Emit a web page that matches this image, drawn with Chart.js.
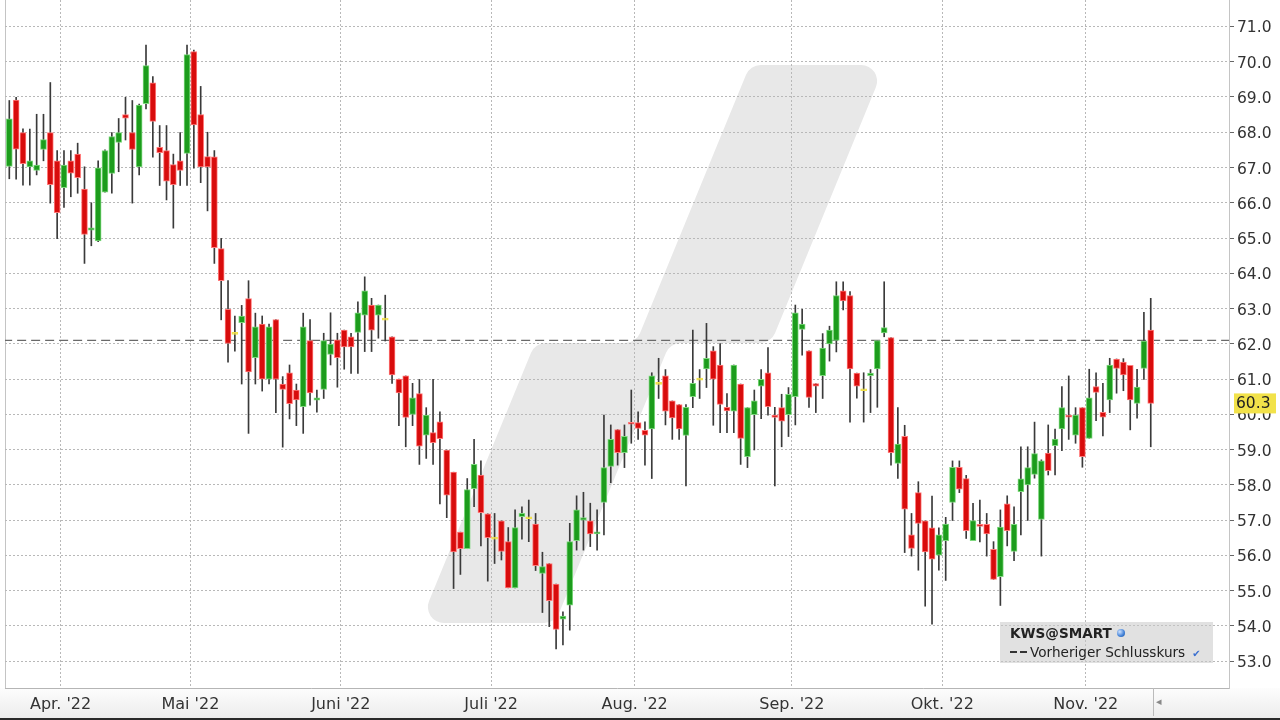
<!DOCTYPE html>
<html lang="de">
<head>
<meta charset="utf-8">
<title>KWS@SMART</title>
<script src="https://cdn.jsdelivr.net/npm/chart.js@4.4.1/dist/chart.umd.min.js"></script>
<style>
  html, body { margin: 0; padding: 0; background: #fff; }
  #wrap { position: relative; width: 1280px; height: 720px; font-family: "DejaVu Sans", Verdana, sans-serif; color: #222; }
  #chart { display: block; }
  .legend { position: absolute; left: 1000px; top: 622px; width: 213px; height: 41px; background: rgba(200,200,200,.55); font-size: 13.6px; }
  .legend .l1 { position: absolute; left: 10px; top: 3px; font-weight: bold; }
  .legend .l2 { position: absolute; left: 10px; top: 22px; white-space: nowrap; }
  .globe { display: inline-block; width: 8px; height: 8px; border-radius: 50%; background: radial-gradient(circle at 35% 35%, #cfe3ff, #3f7fd6 60%, #24559c); margin-left: 5px; vertical-align: 1px; }
  .dash { display: inline-block; width: 7px; height: 2px; background: #333; margin-right: 3px; vertical-align: 4px; }
  .check { color: #3a6fd0; font-size: 10px; margin-left: 7px; }
  .sep { position: absolute; left: 1153px; top: 688px; width: 1px; height: 28px; background: #bbb; }
  .arrow { position: absolute; left: 1156px; top: 695px; font-size: 11px; color: #888; }
</style>
</head>
<body>
<div id="wrap">
  <canvas id="chart" width="1280" height="720"></canvas>
  <div class="legend">
    <div class="l1">KWS@SMART<span class="globe"></span></div>
    <div class="l2"><span class="dash"></span><span class="dash"></span>Vorheriger Schlusskurs<span class="check">✔</span></div>
  </div>
  <div class="sep"></div>
  <div class="arrow">◂</div>
</div>
<script>
// daily candles 22.03.2022 – 14.11.2022 (one entry per trading day)
const opens = [
  67.03, 68.91, 67.99, 67.02, 66.92, 67.51, 67.99, 67.19, 66.43, 67.19, 67.38, 66.39, 65.22, 64.92, 66.30, 66.83, 67.71, 68.50, 67.99, 67.02,
  68.81, 69.40, 67.57, 67.48, 67.08, 67.19, 67.40, 70.29, 68.50, 67.31, 67.30, 64.70, 62.98, 62.27, 62.60, 63.28, 61.61, 62.56, 61.00, 62.69,
  60.86, 61.18, 60.69, 60.22, 62.09, 60.40, 60.71, 61.70, 62.11, 62.39, 62.20, 62.32, 62.81, 63.10, 62.81, 62.67, 62.20, 61.00, 61.09, 60.00,
  60.59, 59.41, 59.48, 59.79, 58.99, 58.36, 56.66, 56.19, 57.89, 58.28, 57.18, 56.46, 56.98, 56.39, 55.08, 57.10, 57.04, 56.89, 55.49, 55.77,
  55.19, 54.19, 54.59, 56.42, 57.00, 56.98, 56.61, 57.50, 58.52, 59.57, 58.91, 59.77, 59.77, 59.55, 59.59, 60.85, 61.09, 60.38, 60.28, 59.40,
  60.50, 60.97, 61.29, 61.80, 61.40, 60.20, 60.09, 60.86, 58.80, 59.99, 60.80, 61.18, 59.98, 60.19, 59.99, 60.50, 62.41, 61.80, 60.87, 61.10,
  62.00, 62.10, 63.50, 63.37, 61.17, 60.67, 61.10, 61.29, 62.31, 62.18, 58.61, 59.38, 56.58, 57.78, 56.98, 56.78, 56.01, 56.42, 57.50, 58.50,
  58.18, 56.42, 56.88, 56.88, 56.17, 55.40, 57.46, 56.11, 57.81, 58.00, 58.30, 57.02, 58.90, 59.11, 59.59, 59.98, 59.41, 60.19, 59.32, 60.79,
  60.06, 60.41, 61.57, 61.48, 61.39, 60.31, 61.30, 62.39
];
const highs = [
  68.90, 68.99, 68.10, 68.09, 68.51, 68.51, 69.41, 67.48, 67.48, 67.48, 67.69, 67.02, 66.00, 67.19, 67.50, 67.99, 68.39, 68.99, 68.90, 68.80,
  70.47, 69.58, 68.19, 68.19, 67.38, 67.99, 70.47, 70.33, 69.30, 68.00, 67.48, 64.99, 63.79, 62.79, 63.09, 63.79, 62.87, 62.79, 62.56, 62.69,
  61.07, 61.40, 60.86, 62.87, 62.69, 60.69, 62.30, 62.88, 62.30, 62.39, 62.30, 63.19, 63.90, 63.29, 63.10, 63.38, 62.20, 61.00, 61.09, 60.88,
  60.99, 60.19, 60.99, 60.07, 58.99, 58.36, 56.66, 58.18, 59.29, 58.68, 57.18, 57.19, 56.98, 56.79, 57.29, 57.38, 57.57, 57.19, 56.09, 55.77,
  55.19, 54.40, 56.91, 57.69, 57.79, 57.48, 57.29, 59.98, 59.70, 59.57, 59.70, 60.69, 60.07, 59.79, 61.18, 61.59, 61.27, 60.38, 60.28, 60.28,
  62.39, 61.27, 62.58, 61.92, 62.01, 60.59, 61.40, 60.86, 60.19, 60.69, 61.27, 61.89, 60.20, 60.57, 60.76, 63.10, 62.98, 61.80, 60.87, 62.29,
  62.50, 63.76, 63.76, 63.48, 61.17, 61.18, 61.27, 62.09, 63.76, 62.18, 60.19, 59.69, 57.19, 58.09, 56.98, 57.68, 56.78, 57.08, 58.68, 58.68,
  58.27, 57.48, 57.57, 57.19, 56.39, 57.29, 57.69, 57.38, 59.08, 59.08, 59.78, 58.71, 59.70, 59.58, 60.79, 61.09, 60.19, 60.19, 61.28, 61.18,
  60.88, 61.59, 61.57, 61.58, 61.39, 61.28, 62.89, 63.29
];
const lows = [
  66.68, 66.67, 66.50, 66.50, 66.79, 67.19, 65.99, 64.98, 65.87, 66.17, 66.27, 64.28, 64.78, 64.90, 66.30, 66.27, 66.88, 67.78, 65.99, 66.79,
  68.66, 67.29, 66.49, 66.08, 65.28, 66.49, 66.49, 66.98, 66.57, 65.77, 64.28, 62.68, 61.48, 61.79, 60.86, 59.46, 60.86, 60.66, 60.86, 60.05,
  59.07, 59.87, 59.68, 59.46, 60.26, 60.06, 60.45, 61.40, 60.77, 61.28, 61.16, 61.16, 61.78, 61.78, 62.16, 62.08, 60.88, 59.68, 59.08, 59.68,
  58.58, 58.75, 58.58, 57.46, 57.07, 55.06, 55.46, 56.19, 57.38, 56.27, 55.27, 55.77, 55.87, 55.08, 55.08, 56.46, 56.39, 55.57, 54.38, 53.98,
  53.35, 53.46, 53.88, 56.15, 56.15, 56.25, 56.15, 56.58, 58.06, 58.56, 58.49, 59.18, 59.29, 58.56, 58.18, 60.45, 59.70, 59.29, 59.29, 57.97,
  60.19, 60.45, 60.76, 59.69, 59.48, 59.48, 59.48, 58.58, 58.49, 58.99, 59.88, 59.98, 57.97, 59.08, 59.37, 59.70, 61.68, 60.20, 60.05, 60.45,
  61.51, 61.77, 62.96, 59.78, 60.46, 59.78, 60.05, 60.20, 62.20, 58.56, 58.18, 56.08, 55.98, 55.58, 54.56, 54.05, 55.58, 55.29, 56.99, 57.78,
  56.48, 56.42, 56.38, 55.98, 55.32, 54.58, 56.27, 55.85, 56.58, 56.99, 58.19, 55.98, 58.28, 58.28, 58.97, 59.29, 59.18, 58.50, 59.32, 59.82,
  59.39, 60.05, 60.60, 60.67, 59.56, 59.89, 60.99, 59.08
];
const closes = [
  68.38, 67.52, 67.11, 67.19, 67.07, 67.79, 66.51, 65.72, 67.07, 66.84, 66.71, 65.10, 65.29, 66.99, 67.48, 67.88, 67.99, 68.40, 67.51, 68.77,
  69.89, 68.31, 67.42, 66.61, 66.51, 66.92, 70.20, 68.21, 67.02, 67.02, 64.73, 63.79, 62.01, 62.27, 62.79, 61.20, 62.48, 61.00, 62.48, 61.00,
  60.71, 60.30, 60.41, 62.48, 60.61, 60.47, 62.09, 61.99, 61.61, 61.91, 61.91, 62.88, 63.50, 62.39, 63.10, 62.67, 61.12, 60.61, 59.91, 60.47,
  59.10, 59.98, 59.20, 59.31, 57.71, 56.10, 56.19, 57.87, 58.58, 57.21, 56.50, 56.46, 56.11, 55.08, 56.79, 57.19, 57.04, 55.71, 55.68, 54.72,
  53.90, 54.28, 56.39, 57.29, 57.07, 56.61, 56.67, 58.49, 59.29, 58.91, 59.38, 59.72, 59.60, 59.41, 61.09, 60.85, 60.09, 59.90, 59.59, 60.20,
  60.88, 60.97, 61.59, 61.00, 60.28, 60.10, 61.40, 59.32, 60.19, 60.38, 60.99, 60.22, 59.91, 59.81, 60.57, 62.88, 62.56, 60.48, 60.80, 61.88,
  62.39, 63.37, 63.22, 61.29, 60.80, 60.67, 61.17, 62.09, 62.46, 58.91, 59.16, 57.31, 56.20, 56.91, 56.10, 55.89, 56.58, 56.89, 58.50, 57.88,
  56.70, 56.99, 56.82, 56.61, 55.32, 56.80, 56.70, 56.88, 58.17, 58.49, 58.89, 58.68, 58.40, 59.30, 60.19, 59.92, 59.98, 58.80, 60.47, 60.62,
  59.92, 61.40, 61.30, 61.12, 60.41, 60.77, 62.08, 60.31
];
const prevClose = 62.1;

// first trading day of each month (index into the arrays above) + label
const monthStarts = [8, 27, 49, 71, 92, 115, 137, 158];
const monthLabels = ["Apr. '22", "Mai '22", "Juni '22", "Juli '22", "Aug. '22", "Sep. '22", "Okt. '22", "Nov. '22"];
const yTicks = [53, 54, 55, 56, 57, 58, 59, 60, 61, 62, 63, 64, 65, 66, 67, 68, 69, 70, 71];

const FONT = 'DejaVu Sans';
const UP = '#1c9c1c', UP_EDGE = '#7ed87e';
const DOWN = '#d80c0c', DOWN_EDGE = '#ff7a7a';
const FLAT = '#f2e24a';

const bodyColor = closes.map((c, i) => c > opens[i] ? UP : c < opens[i] ? DOWN : FLAT);
const edgeColor = closes.map((c, i) => c > opens[i] ? UP_EDGE : c < opens[i] ? DOWN_EDGE : FLAT);

// slanted logo in the background (pixel outline)
const logo = [[420, 623], [535, 343], [636, 343], [750, 65], [885, 65], [771, 343], [670, 343], [555, 623]];

function roundPoly(ctx, pts, r) {
  const n = pts.length;
  const a = pts[n - 1], b = pts[0];
  ctx.beginPath();
  ctx.moveTo((a[0] + b[0]) / 2, (a[1] + b[1]) / 2);
  for (let i = 0; i < n; i++) {
    const p = pts[i], q = pts[(i + 1) % n];
    ctx.arcTo(p[0], p[1], q[0], q[1], r);
  }
  ctx.closePath();
}

const backdrop = {
  id: 'backdrop',
  beforeDraw(chart) {
    const { ctx, chartArea: a, width, height } = chart;
    ctx.save();
    const g = ctx.createLinearGradient(0, a.bottom, 0, height);
    g.addColorStop(0, '#fdfdfd');
    g.addColorStop(1, '#ebebeb');
    ctx.fillStyle = g;
    ctx.fillRect(0, a.bottom, width, height - a.bottom);
    ctx.fillStyle = '#2a2a2a';
    ctx.fillRect(0, height - 2, width, 2);

    ctx.fillStyle = '#e8e8e8';
    roundPoly(ctx, logo, 16);
    ctx.fill();

    ctx.strokeStyle = '#c4c4c4';
    ctx.lineWidth = 1;
    ctx.beginPath();
    ctx.moveTo(a.left + .5, a.top);
    ctx.lineTo(a.left + .5, a.bottom);
    ctx.stroke();
    ctx.restore();
  }
};

// yellow tag with the last price on the right axis
const lastTag = {
  id: 'lastTag',
  afterDraw(chart) {
    const { ctx } = chart;
    const y = chart.scales.y.getPixelForValue(closes[closes.length - 1]);
    const x = chart.chartArea.right + 5;
    ctx.save();
    ctx.fillStyle = FLAT;
    ctx.fillRect(x, y - 10, 42, 20);
    ctx.fillStyle = '#222';
    ctx.font = '15.5px ' + FONT;
    ctx.textBaseline = 'middle';
    ctx.fillText(closes[closes.length - 1].toFixed(1), x + 2, y + 1);
    ctx.restore();
  }
};

new Chart(document.getElementById('chart'), {
  type: 'bar',
  data: {
    datasets: [{
      label: 'Docht',
      data: highs.map((h, i) => ({ x: i, y: [lows[i], h] })),
      backgroundColor: '#3a3a3a',
      barThickness: 1,
      borderWidth: 0,
      order: 2
    }, {
      label: 'KWS@SMART',
      data: opens.map((o, i) => ({ x: i, y: [o, closes[i]] })),
      backgroundColor: bodyColor,
      borderColor: edgeColor,
      borderWidth: 1,
      borderSkipped: false,
      barThickness: 6,
      minBarLength: 2,
      order: 1
    }, {
      type: 'line',
      label: 'Vorheriger Schlusskurs',
      data: [{ x: -5, y: prevClose }, { x: 200, y: prevClose }],
      borderColor: '#6a6a6a',
      borderWidth: 1.3,
      borderDash: [9, 5],
      pointRadius: 0,
      order: 3
    }]
  },
  options: {
    responsive: false,
    animation: false,
    grouped: false,
    layout: { padding: { left: 5, top: 0, right: 0, bottom: 0 } },
    plugins: { legend: { display: false }, tooltip: { enabled: false } },
    scales: {
      x: {
        type: 'linear',
        min: -0.63,
        max: 178.45,
        offset: false,
        afterBuildTicks: s => { s.ticks = monthStarts.map(i => ({ value: i - 0.5 })); },
        afterFit: s => { s.height = 32; s.paddingLeft = 0; s.paddingRight = 0; },
        ticks: { autoSkip: false, maxRotation: 0, padding: 7, color: '#333', font: { family: FONT, size: 16 }, callback: (v, i) => monthLabels[i] },
        grid: { color: '#b8b8b8', drawTicks: false, offset: false },
        border: { dash: [2, 2], color: '#b5b5b5' }
      },
      y: {
        position: 'right',
        min: 52.24,
        max: 71.75,
        afterBuildTicks: s => { s.ticks = yTicks.map(v => ({ value: v })); },
        afterFit: s => { s.width = 51; s.paddingTop = 0; s.paddingBottom = 0; },
        ticks: { padding: 3, labelOffset: 2, color: '#333', font: { family: FONT, size: 15.5 }, callback: v => v.toFixed(1) },
        grid: { color: '#b8b8b8', tickColor: '#666', tickLength: 5 },
        border: { dash: [2, 2], color: '#c4c4c4' }
      }
    }
  },
  plugins: [backdrop, lastTag]
});
</script>
</body>
</html>
